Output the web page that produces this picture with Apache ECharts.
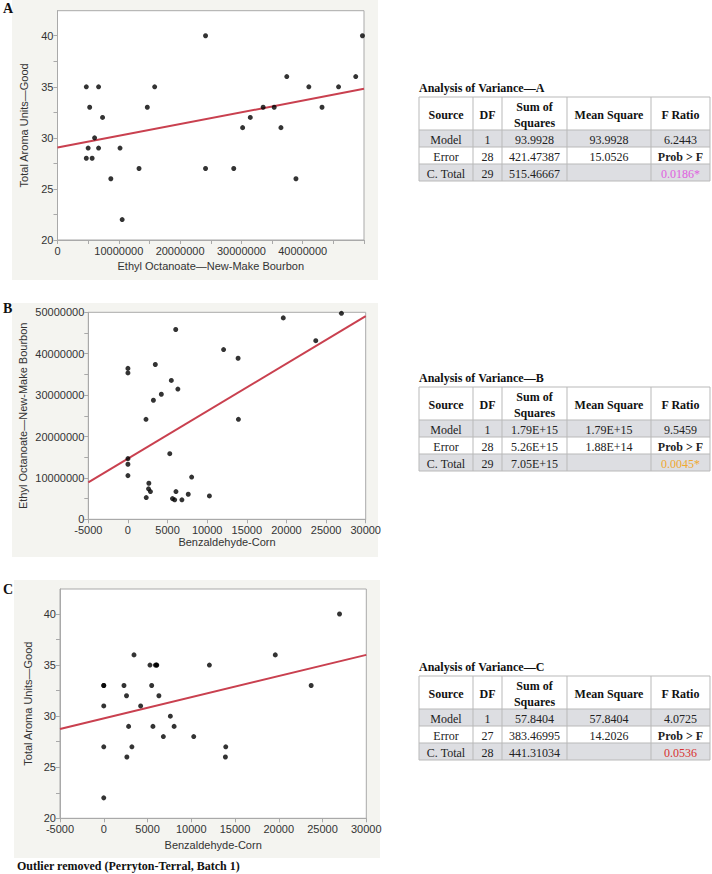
<!DOCTYPE html>
<html><head><meta charset="utf-8">
<script src="https://cdn.jsdelivr.net/npm/echarts@6/dist/echarts.min.js"></script>
<style>html,body{margin:0;padding:0;background:#fff}#c{width:712px;height:874px}</style>
</head><body><div id="c"></div>
<script>
// ---- data: one record per sample, ordered by ethyl octanoate ----
const benzaldehydeCorn = [6810, 5900, 5620, 2310, 10280, 7610, 2840, 6060, 2600, 2640, 8040, 0, 0, 0, 5280, 2280, 13940, 3215, 4215, 6300, 5475, 0, 0, 3455, 13900, 12070, 23700, 6030, 19600, 26940];
const ethylOctanoate = [4700000, 4700000, 5000000, 5250000, 5650000, 6050000, 6700000, 6700000, 7350000, 8700000, 10200000, 10550000, 13300000, 14650000, 15850000, 24150000, 24150000, 28750000, 30200000, 31450000, 33550000, 35350000, 36450000, 37400000, 38900000, 41000000, 43150000, 45850000, 48650000, 49750000];
const totalAromaGood = [28, 35, 29, 33, 28, 30, 29, 35, 32, 26, 29, 22, 27, 33, 35, 40, 27, 27, 31, 32, 33, 33, 31, 36, 26, 35, 33, 35, 36, 40];
const outlierIndex = 15; // Perryton-Terral, Batch 1 (removed in C)

// fitted lines (endpoints)
const fitA = [[0, 29.05], [50000000, 34.8]];
const fitB = [[-5000, 8900000], [30000, 49100000]];
const fitC = [[-5000, 28.75], [30000, 36.0]];

// ticks
const xTicksA = [0, 5000000, 10000000, 15000000, 20000000, 25000000, 30000000, 35000000, 40000000, 45000000, 50000000];
const xLabelsA = [0, 10000000, 20000000, 30000000, 40000000];
const yTicksAroma = [20, 22.5, 25, 27.5, 30, 32.5, 35, 37.5, 40];
const yLabelsAroma = [20, 25, 30, 35, 40];
const xTicksBenz = [-5000, 0, 5000, 10000, 15000, 20000, 25000, 30000];
const yTicksB = [0, 5000000, 10000000, 15000000, 20000000, 25000000, 30000000, 35000000, 40000000, 45000000, 50000000];
const yLabelsB = [0, 10000000, 20000000, 30000000, 40000000, 50000000];

// ANOVA tables
const anovaHeader = ['Source', 'DF', 'Sum of\nSquares', 'Mean Square', 'F Ratio'];
const anovaA = [['Model', '1', '93.9928', '93.9928', '6.2443'], ['Error', '28', '421.47387', '15.0526', 'Prob > F'], ['C. Total', '29', '515.46667', '', '0.0186*']];
const anovaB = [['Model', '1', '1.79E+15', '1.79E+15', '9.5459'], ['Error', '28', '5.26E+15', '1.88E+14', 'Prob > F'], ['C. Total', '29', '7.05E+15', '', '0.0045*']];
const anovaC = [['Model', '1', '57.8404', '57.8404', '4.0725'], ['Error', '27', '383.46995', '14.2026', 'Prob > F'], ['C. Total', '28', '441.31034', '', '0.0536']];
const anovaTitles = ['Analysis of Variance\u2014A', 'Analysis of Variance\u2014B', 'Analysis of Variance\u2014C'];

// ---- build series data ----
const ptsA = ethylOctanoate.map((e, i) => [e, totalAromaGood[i]]);
const ptsB = benzaldehydeCorn.map((b, i) => [b, ethylOctanoate[i]]);
const ptsC = benzaldehydeCorn.map((b, i) => [b, totalAromaGood[i]]).filter((p, i) => i !== outlierIndex);

// ---- styles ----
const SANS = 'Liberation Sans, Arial, sans-serif';
const SERIF = 'Liberation Serif, Times New Roman, serif';
const AX = '#a9a9a9';
const LBL = '#333';
const RED = '#c9404f';
const pColors = ['#e060e0', '#f0a830', '#d83030'];

function xAxis(grid, min, max, ticks, labels, name, gap) {
  return {
    type: 'value', gridIndex: grid, min, max, name, nameLocation: 'middle', nameGap: gap,
    nameTextStyle: {color: LBL, fontFamily: SANS, fontSize: 11},
    axisLine: {show: true, onZero: false, lineStyle: {color: AX}},
    axisTick: {show: true, length: 4, customValues: ticks, lineStyle: {color: AX}},
    axisLabel: {customValues: labels, color: LBL, fontFamily: SANS, fontSize: 11, margin: 5, formatter: v => String(v)},
    splitLine: {show: false}
  };
}
function yAxis(grid, min, max, ticks, labels, name, gap) {
  return {
    type: 'value', gridIndex: grid, min, max, name, nameLocation: 'middle', nameGap: gap,
    nameTextStyle: {color: LBL, fontFamily: SANS, fontSize: 11},
    axisLine: {show: true, onZero: false, lineStyle: {color: AX}},
    axisTick: {show: true, length: 4, customValues: ticks, lineStyle: {color: AX}},
    axisLabel: {customValues: labels, color: LBL, fontFamily: SANS, fontSize: 11, margin: 4, formatter: v => String(v)},
    splitLine: {show: false}
  };
}

// ---- tables as graphics ----
const colX = [419, 473, 502, 567, 651, 710];
const tableTops = [97, 387, 676];
const HEAD_H = 33, ROW_H = 17;
const graphics = [];
// panel backgrounds
[[12, 0, 366, 280], [12, 303, 366, 254], [14, 580, 366, 278]].forEach(r => {
  graphics.push({type: 'rect', z: -100, shape: {x: r[0], y: r[1], width: r[2], height: r[3]}, style: {fill: '#f4f4f0'}});
});
// panel letters
[['A', 8], ['B', 308], ['C', 589]].forEach(l => {
  graphics.push({type: 'text', x: 3, y: l[1], style: {text: l[0], font: 'bold 14px ' + SERIF, fill: '#111', align: 'left', verticalAlign: 'middle', textAlign: 'left', textVerticalAlign: 'middle'}});
});
graphics.push({type: 'text', x: 17, y: 866, style: {text: 'Outlier removed (Perryton-Terral, Batch 1)', font: 'bold 12px ' + SERIF, fill: '#111', align: 'left', verticalAlign: 'middle', textAlign: 'left', textVerticalAlign: 'middle'}});

[anovaA, anovaB, anovaC].forEach((rows, t) => {
  const top = tableTops[t];
  const left = colX[0], right = colX[colX.length - 1];
  const bottom = top + HEAD_H + ROW_H * rows.length;
  graphics.push({type: 'text', x: left, y: top - 9, style: {text: anovaTitles[t], font: 'bold 12px ' + SERIF, fill: '#111', align: 'left', verticalAlign: 'middle', textAlign: 'left', textVerticalAlign: 'middle'}});
  // row fills
  rows.forEach((r, i) => {
    if (i % 2 === 0) {
      graphics.push({type: 'rect', shape: {x: left, y: top + HEAD_H + i * ROW_H, width: right - left, height: ROW_H}, style: {fill: '#dddee2'}});
    }
  });
  // grid lines
  const lines = [];
  [top, top + HEAD_H, top + HEAD_H + ROW_H, top + HEAD_H + 2 * ROW_H, bottom].forEach(y => lines.push([left, y, right, y]));
  colX.forEach(x => lines.push([x, top, x, bottom]));
  lines.forEach(l => graphics.push({type: 'line', shape: {x1: l[0], y1: l[1], x2: l[2], y2: l[3]}, style: {stroke: '#b9b9b9', lineWidth: 1}}));
  // header
  anovaHeader.forEach((h, c) => {
    graphics.push({type: 'text', x: (colX[c] + colX[c + 1]) / 2, y: top + HEAD_H / 2 + 1, style: {text: h, font: 'bold 12px ' + SERIF, lineHeight: 16, fill: '#111', align: 'center', verticalAlign: 'middle', textAlign: 'center', textVerticalAlign: 'middle'}});
  });
  rows.forEach((r, i) => {
    r.forEach((v, c) => {
      if (!v) return;
      const isProb = v === 'Prob > F';
      const isP = (i === rows.length - 1 && c === 4);
      graphics.push({type: 'text', x: (colX[c] + colX[c + 1]) / 2, y: top + HEAD_H + i * ROW_H + ROW_H / 2 + 1, style: {text: v, font: (isProb ? 'bold ' : '') + '12px ' + SERIF, fill: isP ? pColors[t] : '#222', align: 'center', verticalAlign: 'middle', textAlign: 'center', textVerticalAlign: 'middle'}});
    });
  });
});

const gridStyle = {show: true, backgroundColor: '#fff', borderColor: AX, borderWidth: 1, containLabel: false};
const option = {
  animation: false,
  backgroundColor: 'transparent',
  grid: [
    Object.assign({left: 57.5, top: 10.7, width: 306.5, height: 229.3}, gridStyle),
    Object.assign({left: 88.3, top: 312.3, width: 277.4, height: 207}, gridStyle),
    Object.assign({left: 60, top: 589, width: 306.3, height: 229.3}, gridStyle)
  ],
  xAxis: [
    xAxis(0, 0, 50000000, xTicksA, xLabelsA, 'Ethyl Octanoate\u2014New-Make Bourbon', 20),
    xAxis(1, -5000, 30000, xTicksBenz, xTicksBenz, 'Benzaldehyde-Corn', 17),
    xAxis(2, -5000, 30000, xTicksBenz, xTicksBenz, 'Benzaldehyde-Corn', 21)
  ],
  yAxis: [
    yAxis(0, 20, 42.45, yTicksAroma, yLabelsAroma, 'Total Aroma Units\u2014Good', 28),
    yAxis(1, 0, 50000000, yTicksB, yLabelsB, 'Ethyl Octanoate\u2014New-Make Bourbon', 60),
    yAxis(2, 20, 42.45, yTicksAroma, yLabelsAroma, 'Total Aroma Units\u2014Good', 27)
  ],
  series: [
    {type: 'line', xAxisIndex: 0, yAxisIndex: 0, data: fitA, symbol: 'none', lineStyle: {color: RED, width: 2}, z: 2},
    {type: 'scatter', xAxisIndex: 0, yAxisIndex: 0, data: ptsA, symbolSize: 5, itemStyle: {color: '#000'}, z: 3},
    {type: 'line', xAxisIndex: 1, yAxisIndex: 1, data: fitB, symbol: 'none', lineStyle: {color: RED, width: 2}, z: 2},
    {type: 'scatter', xAxisIndex: 1, yAxisIndex: 1, data: ptsB, symbolSize: 5, itemStyle: {color: '#000'}, z: 3},
    {type: 'line', xAxisIndex: 2, yAxisIndex: 2, data: fitC, symbol: 'none', lineStyle: {color: RED, width: 2}, z: 2},
    {type: 'scatter', xAxisIndex: 2, yAxisIndex: 2, data: ptsC, symbolSize: 5, itemStyle: {color: '#000'}, z: 3}
  ],
  graphic: graphics
};
const chart = echarts.init(document.getElementById('c'), null, {renderer: 'svg'});
chart.setOption(option);
</script>
</body></html>
